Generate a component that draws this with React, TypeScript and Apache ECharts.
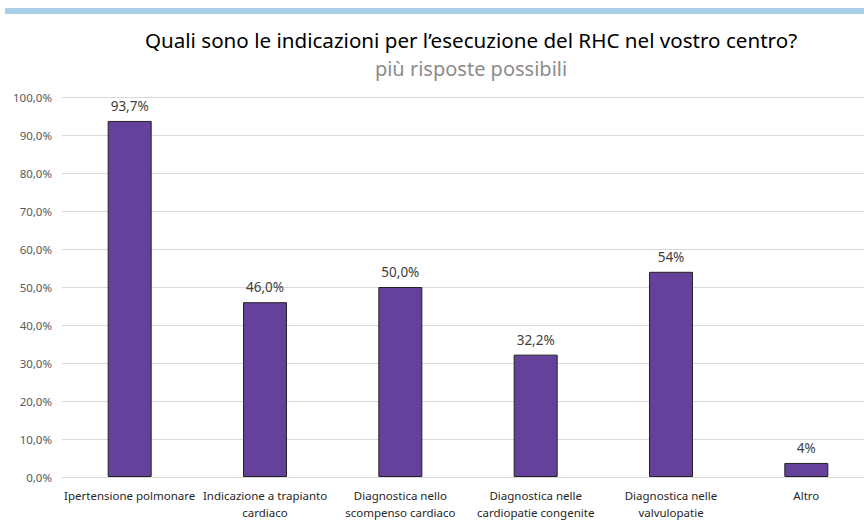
import React, { useEffect, useRef } from "react";
import * as echarts from "echarts";

const categories = [
  "Ipertensione polmonare",
  "Indicazione a trapianto\ncardiaco",
  "Diagnostica nello\nscompenso cardiaco",
  "Diagnostica nelle\ncardiopatie congenite",
  "Diagnostica nelle\nvalvulopatie",
  "Altro",
];
const values = [93.7, 46.0, 50.0, 32.2, 54.0, 3.7];
const valueLabels = ["93,7%", "46,0%", "50,0%", "32,2%", "54%", "4%"];
const titleText = "Quali sono le indicazioni per l\u2019esecuzione del RHC nel vostro centro?";
const subtitleText = "pi\u00f9 risposte possibili";

export default function App() {
  const ref = useRef<HTMLDivElement>(null);
  useEffect(() => {
    if (!ref.current) return;
    const chart = echarts.init(ref.current, null, { renderer: "svg" });
    const font = "Noto Sans";
    chart.setOption({
      animation: false,
      backgroundColor: "#ffffff",
      graphic: [
        { type: "rect", shape: { x: 5, y: 8, width: 869, height: 6 }, style: { fill: "#a8d0e6" } },
        {
          type: "text",
          x: 471,
          y: 40,
          style: { text: titleText, font: `20.6px "${font}"`, fill: "#000000", align: "center", verticalAlign: "middle" },
        },
        {
          type: "text",
          x: 471,
          y: 68,
          style: { text: subtitleText, font: `20px "${font}"`, fill: "#8c8c8c", align: "center", verticalAlign: "middle" },
        },
      ],
      grid: { left: 62, right: 0, top: 97, bottom: 45, containLabel: false },
      xAxis: {
        type: "category",
        data: categories,
        axisTick: { show: false },
        axisLine: { lineStyle: { color: "#d9d9d9", width: 1 } },
        axisLabel: {
          color: "#262626",
          fontFamily: font,
          fontSize: 11.5,
          lineHeight: 17,
          margin: 10,
          interval: 0,
        },
      },
      yAxis: {
        type: "value",
        min: 0,
        max: 100,
        interval: 10,
        axisLine: { show: false },
        axisTick: { show: false },
        splitLine: { lineStyle: { color: "#d9d9d9", width: 1 } },
        axisLabel: {
          color: "#595959",
          fontFamily: font,
          fontSize: 11.5,
          margin: 10,
          formatter: (v: number) => v.toFixed(1).replace(".", ",") + "%",
        },
      },
      series: [
        {
          type: "bar",
          data: values,
          barWidth: 44,
          itemStyle: { color: "#64419a", borderColor: "#222222", borderWidth: 1 },
          label: {
            show: true,
            position: "top",
            distance: 8,
            color: "#404040",
            fontFamily: font,
            fontSize: 13.5,
            formatter: (p: any) => valueLabels[p.dataIndex],
          },
        },
      ],
    });
    return () => chart.dispose();
  }, []);
  return <div ref={ref} style={{ position: "fixed", left: 0, top: 0, width: 874, height: 522 }} />;
}
